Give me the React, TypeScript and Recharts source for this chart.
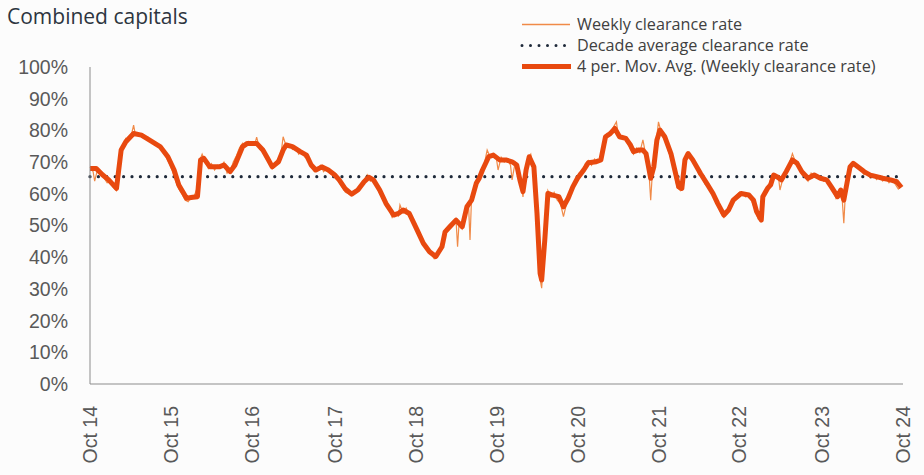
import { LineChart, Line, XAxis, YAxis, Legend } from "recharts";

// weeks since Oct 2014, value in %
const movingAvg: [number, number][] = [
  [0, 68], [4, 68], [8, 66], [12, 64.4], [17, 61.7], [20, 73.8], [23, 76.4], [28, 79], [33, 78.5],
  [38, 77], [45, 74.9], [50, 71.7], [54, 67.5], [57, 62.8], [62, 58.6], [66, 58.9], [69, 59.1],
  [71, 70.7], [73, 71.2], [77, 68.5], [81, 68.5], [83, 68.5], [86, 69.1], [90, 67], [93, 69],
  [98, 74.9], [101, 75.9], [107, 75.9], [111, 73.8], [114, 71.2], [117, 68.5], [121, 70.1],
  [124, 73.8], [126, 75.4], [130, 74.9], [135, 73.3], [139, 72.2], [142, 69.1], [145, 67.5],
  [149, 68.5], [153, 67.5], [157, 66], [160, 64.4], [164, 61.5], [168, 59.9], [172, 61.2],
  [176, 63.8], [179, 65.2], [182, 64.4], [186, 61.2], [190, 57], [195, 53.3], [198, 53.8],
  [201, 54.9], [205, 53.8], [210, 48.6], [214, 44.4], [218, 41.7], [222, 40.2], [226, 43.3],
  [228, 48], [231, 49.6], [235, 51.7], [239, 49.6], [242, 55.9], [245, 58], [248, 63.3],
  [250, 65], [252, 67.5], [256, 71.7], [259, 72.2], [263, 70.7], [267, 70.7], [271, 70.1],
  [274, 69.1], [276, 64.4], [278, 60.7], [280, 67.5], [282, 71.7], [285, 68.5], [287, 53.8],
  [289, 34.9], [290, 32.8], [292, 45.4], [294, 60.1], [297, 59.6], [301, 59.1], [304, 55.9],
  [307, 58.6], [310, 62.2], [313, 64.9], [317, 67.5], [320, 69.8], [325, 70.1], [328, 70.7],
  [331, 78], [334, 79], [337, 80.6], [340, 78], [344, 77.5], [347, 75.4], [349, 73.3],
  [352, 73.8], [355, 73.8], [357, 72.7], [360, 64.9], [362, 68.5], [364, 77], [366, 80.1],
  [369, 78], [373, 72.7], [375, 68.5], [378, 62.2], [380, 61.7], [382, 70.7], [384, 72.7],
  [387, 70.7], [392, 66.4], [396, 63.3], [400, 60.1], [403, 57], [407, 53.3], [410, 54.9],
  [413, 58], [418, 60.1], [423, 59.6], [426, 58], [428, 54.4], [431, 51.7], [432, 59.1],
  [435, 61.7], [437, 62.8], [439, 65.9], [441, 65.4], [444, 64.4], [447, 67], [451, 70.7],
  [454, 69.6], [457, 67], [461, 64.9], [465, 65.9], [469, 64.9], [473, 64.4], [476, 62.2],
  [480, 59.1], [482, 61.2], [484, 58], [486, 63.3], [488, 68.5], [490, 69.6], [493, 68.5],
  [497, 67], [501, 65.9], [505, 65.4], [509, 64.9], [514, 64.4], [518, 63.8], [521, 62],
];

const weekly: [number, number][] = [
  [0, 68.5], [2, 67], [3, 64], [5, 68], [7, 66.5], [9, 65], [11, 63.5], [13, 64.5], [15, 62], [17, 61],
  [18, 66], [19, 72], [21, 75], [23, 77.5], [25, 77], [27, 79.5], [28, 81.7], [29, 79], [31, 78.5],
  [33, 79], [35, 77.5], [37, 78], [39, 76.5], [41, 76], [43, 75], [45, 74.5], [47, 73], [49, 71.5],
  [51, 69.5], [53, 67], [55, 64], [57, 61.5], [59, 60], [61, 58], [63, 57.5], [65, 59], [67, 59.5],
  [69, 62], [70, 70], [72, 72.5], [74, 70], [76, 68], [78, 69.5], [80, 67.5], [82, 69], [84, 68.5],
  [86, 70], [88, 66.5], [90, 67], [92, 70], [94, 72], [96, 74.5], [98, 76], [100, 75], [102, 76.5],
  [104, 75.5], [106, 76], [107, 77.9], [109, 74], [111, 73.5], [113, 71], [115, 70.5], [117, 68],
  [119, 70], [121, 71], [123, 74], [124, 78], [126, 75], [128, 75.5], [130, 74], [132, 74.5],
  [134, 72.5], [136, 73.5], [138, 71.5], [140, 71], [142, 68.5], [144, 67], [146, 68], [148, 69],
  [150, 67], [152, 68], [154, 66.5], [156, 66], [158, 65], [160, 63.5], [162, 62], [164, 60.5],
  [166, 60], [168, 59.5], [170, 60.5], [172, 62], [174, 63], [176, 64.5], [178, 66], [180, 64],
  [182, 64.5], [184, 62], [186, 60], [188, 58.5], [190, 56], [192, 55], [194, 52.5], [196, 54],
  [198, 53], [199, 56.5], [201, 54], [203, 55.5], [205, 53], [207, 51], [209, 49], [211, 47],
  [213, 45], [215, 43.5], [217, 42], [219, 41], [221, 39.5], [223, 40.5], [225, 42], [227, 47],
  [229, 49], [231, 50], [233, 50.5], [235, 52], [236, 43.3], [237, 51], [239, 49], [241, 53],
  [243, 57], [244, 45.4], [245, 59], [247, 62], [249, 64.5], [251, 66], [253, 69], [255, 73.8],
  [257, 71.5], [259, 72.5], [261, 71], [262, 67.5], [264, 71.5], [266, 70], [268, 71], [270, 69],
  [271, 64.4], [273, 70], [275, 68], [277, 63], [278, 59], [279, 64], [281, 71], [283, 72.5],
  [285, 67], [287, 50], [289, 33], [290, 30.2], [291, 38], [293, 52], [294, 61], [296, 59],
  [298, 60.5], [300, 58], [302, 57], [304, 52.8], [306, 57], [308, 60], [310, 63], [312, 64],
  [314, 66.5], [316, 67], [318, 69.5], [320, 70.5], [322, 69], [324, 71], [326, 70], [328, 71.5],
  [330, 77], [332, 79], [334, 78.5], [336, 81], [338, 82.7], [339, 79], [341, 77.5], [343, 78],
  [345, 76], [347, 74], [349, 72.5], [351, 74.5], [353, 73], [355, 77], [357, 72], [359, 66],
  [360, 58], [361, 66], [363, 74], [365, 82.7], [367, 79], [369, 77.5], [371, 74], [373, 71],
  [375, 67], [377, 62], [379, 61], [381, 66], [383, 72.5], [385, 72], [387, 70], [389, 68.5],
  [391, 66], [393, 65.5], [395, 63], [397, 62.5], [399, 60], [401, 59], [403, 56.5], [405, 54],
  [407, 52.5], [409, 54.5], [411, 56], [413, 58.5], [415, 59.5], [417, 60.5], [419, 60], [421, 59],
  [423, 60], [425, 57.5], [427, 55], [429, 52], [431, 51.5], [432, 59], [434, 61], [436, 63],
  [438, 66], [440, 65], [442, 65.5], [443, 61.2], [445, 65], [447, 67.5], [449, 69.5], [451, 72.7],
  [453, 70], [455, 68.5], [457, 66], [459, 65.5], [461, 64], [463, 66.5], [465, 65.5], [467, 65],
  [469, 65.5], [471, 64], [473, 64.5], [475, 62.5], [477, 61], [479, 58.5], [481, 60.5], [483, 58],
  [484, 50.7], [485, 60], [487, 66], [489, 69.5], [491, 69], [493, 68], [495, 67.5], [497, 66],
  [499, 66.5], [501, 65], [503, 66], [505, 64.5], [507, 65.5], [509, 64], [511, 65], [513, 63.5],
  [515, 64.5], [517, 63], [519, 61.5], [521, 62.5],
];

const decadeAverage = 65.4;
const yearTicks = [0, 52, 104, 157, 209, 261, 313, 365, 417, 470, 522];
const yearLabels = ["Oct 14", "Oct 15", "Oct 16", "Oct 17", "Oct 18", "Oct 19", "Oct 20", "Oct 21", "Oct 22", "Oct 23", "Oct 24"];
const pctTicks = [0, 10, 20, 30, 40, 50, 60, 70, 80, 90, 100];

const THICK = "#e8490f";
const THIN = "#f08a48";
const DOTS = "#1f2a3a";
const TICK_FONT = "'Liberation Sans', Arial, sans-serif";
const UI_FONT = "'Open Sans', 'Noto Sans', sans-serif";

const maData = movingAvg.map(([week, v]) => ({ week, ma: v }));
const weeklyData = weekly.map(([week, v]) => ({ week, rate: v }));
const avgData = [{ week: 0, avg: decadeAverage }, { week: 522, avg: decadeAverage }];

function YearTick({ x, y, payload }: any) {
  const i = yearTicks.indexOf(payload.value);
  return (
    <text
      x={0}
      y={0}
      dy="0.36em"
      textAnchor="end"
      transform={`translate(${x},${y + 14}) rotate(-90)`}
      fill="#595959"
      fontSize={19.5}
      fontFamily={TICK_FONT}
    >
      {yearLabels[i]}
    </text>
  );
}

function LegendBox() {
  const rows = [
    { label: "Weekly clearance rate", kind: "thin" },
    { label: "Decade average clearance rate", kind: "dots" },
    { label: "4 per. Mov. Avg. (Weekly clearance rate)", kind: "thick" },
  ];
  return (
    <div style={{ fontFamily: UI_FONT, fontSize: 16.2, color: "#404040", lineHeight: "21px" }}>
      {rows.map((r) => (
        <div key={r.label} style={{ display: "flex", alignItems: "center", height: 21 }}>
          <svg width={54} height={21} style={{ marginRight: 3 }}>
            {r.kind === "thin" && <line x1={2} x2={50} y1={10.5} y2={10.5} stroke={THIN} strokeWidth={1.3} />}
            {r.kind === "dots" && (
              <line x1={2} x2={50} y1={10.5} y2={10.5} stroke={DOTS} strokeWidth={3} strokeDasharray="0 8.5" strokeLinecap="round" />
            )}
            {r.kind === "thick" && <line x1={2} x2={51} y1={10.5} y2={10.5} stroke={THICK} strokeWidth={5} />}
          </svg>
          <span>{r.label}</span>
        </div>
      ))}
    </div>
  );
}

export default function App() {
  return (
    <div style={{ position: "absolute", left: 0, top: 0, width: 924, height: 475, background: "#fcfcfc" }}>
      <div
        style={{
          position: "absolute",
          left: 7,
          top: 2,
          fontFamily: UI_FONT,
          fontSize: 21,
          color: "#2d3540",
          zIndex: 2,
        }}
      >
        Combined capitals
      </div>
      <LineChart width={924} height={475} margin={{ top: 67, right: 21, left: 0, bottom: 0 }}>
        <XAxis
          dataKey="week"
          type="number"
          domain={[0, 522]}
          ticks={yearTicks}
          interval={0}
          tick={<YearTick />}
          tickLine={false}
          axisLine={{ stroke: "#8c8c8c" }}
          height={91}
        />
        <YAxis
          type="number"
          domain={[0, 100]}
          ticks={pctTicks}
          interval={0}
          tickFormatter={(v) => `${v}%`}
          tick={{ fill: "#595959", fontSize: 19.5, fontFamily: TICK_FONT }}
          tickLine={false}
          tickSize={0}
          tickMargin={22}
          axisLine={{ stroke: "#8c8c8c" }}
          width={90}
        />
        <Legend
          layout="horizontal"
          verticalAlign="middle"
          align="center"
          content={<LegendBox />}
          wrapperStyle={{ top: 14, left: 520, width: 404 }}
        />
        <Line data={weeklyData} dataKey="rate" stroke={THIN} strokeWidth={1.2} dot={false} isAnimationActive={false} />
        <Line
          data={avgData}
          dataKey="avg"
          stroke={DOTS}
          strokeWidth={3.2}
          strokeDasharray="0 8.4"
          strokeLinecap="round"
          dot={false}
          isAnimationActive={false}
        />
        <Line data={maData} dataKey="ma" stroke={THICK} strokeWidth={5} dot={false} strokeLinejoin="round" isAnimationActive={false} />
      </LineChart>
    </div>
  );
}
